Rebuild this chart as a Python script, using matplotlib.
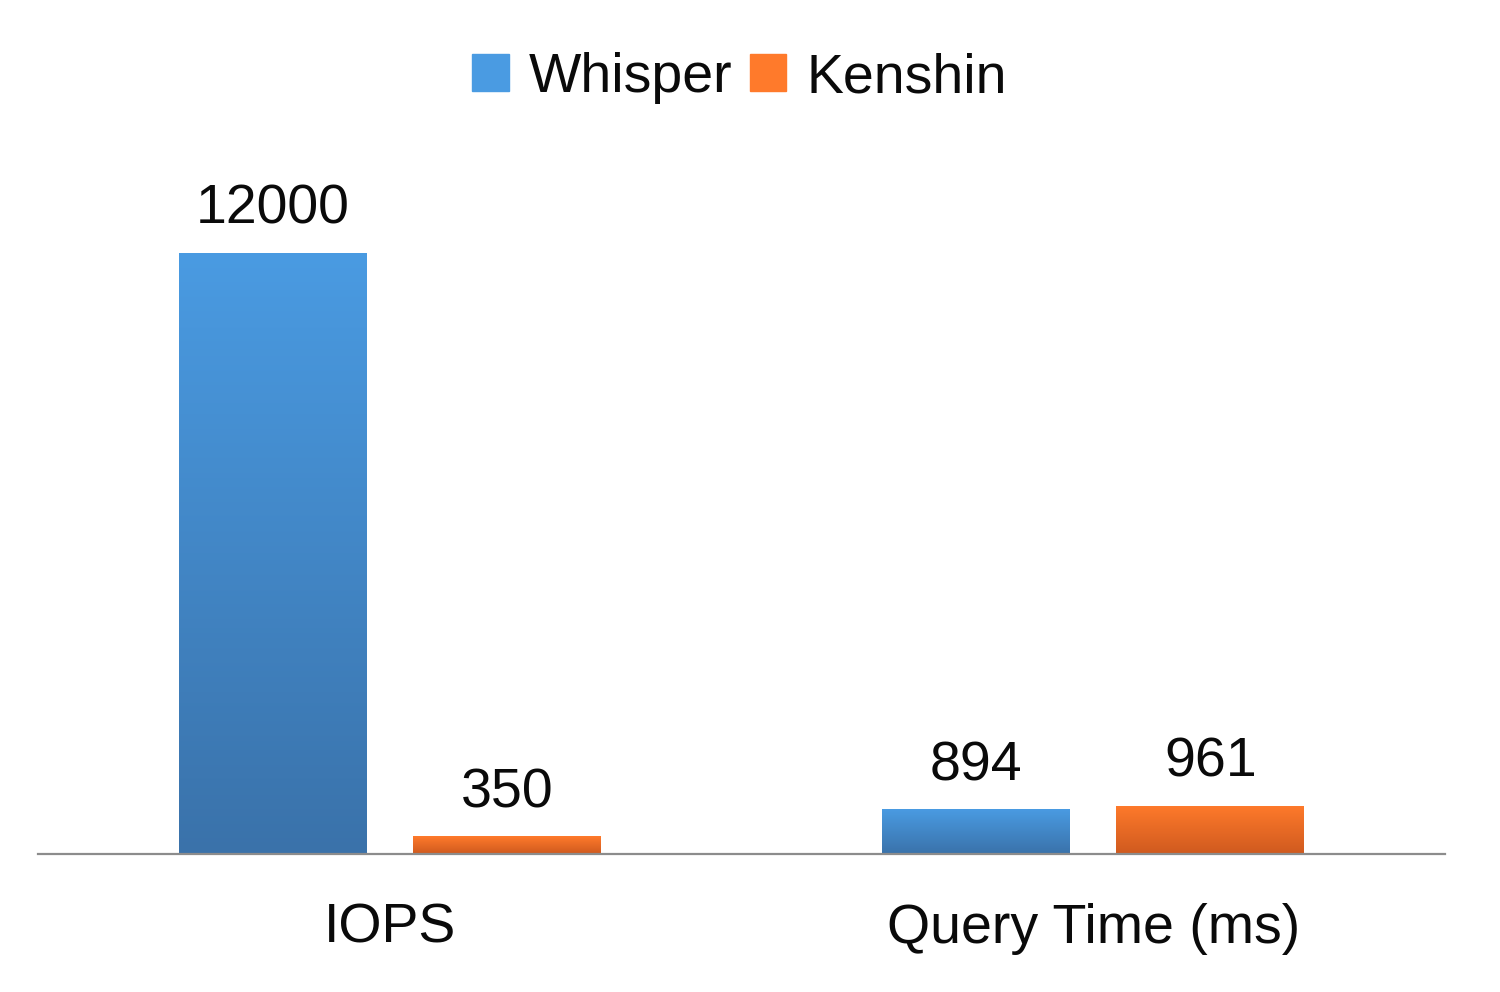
import numpy as np
import matplotlib
matplotlib.use('Agg')
from matplotlib import pyplot as plt
from matplotlib.colors import LinearSegmentedColormap

categories = ['IOPS', 'Query Time (ms)']
series_names = ['Whisper', 'Kenshin']
whisper = [12000, 894]
kenshin = [350, 961]
values = [whisper, kenshin]

# top / bottom colours of each series' gradient
grad_colors = [('#4a9be2', '#3a72aa'), ('#ff7a2b', '#cf5a1f')]

plt.rcParams['font.family'] = ['Liberation Sans', 'DejaVu Sans']

fig = plt.figure(figsize=(15, 9.92), dpi=100)
ax = fig.add_axes([0.0253, 0.1391, 0.938, 0.73])

x = np.arange(len(categories))
width = 0.267
offsets = [-0.1665, 0.1665]

grad = np.linspace(1, 0, 256).reshape(-1, 1)
for i, name in enumerate(series_names):
    top, bottom = grad_colors[i]
    cmap = LinearSegmentedColormap.from_list(name, [bottom, top])
    bars = ax.bar(x + offsets[i], values[i], width, color=top, label=name, zorder=2)
    for b, v in zip(bars, values[i]):
        x0, w, h = b.get_x(), b.get_width(), b.get_height()
        im = ax.imshow(grad, cmap=cmap, aspect='auto', extent=[x0, x0 + w, 0, h],
                       vmin=0, vmax=1, zorder=3)
        im.set_clip_path(b)
        ax.annotate(str(v), (x0 + w / 2, h), xytext=(0, 21), textcoords='offset points',
                    ha='center', va='baseline', fontsize=40, color='#0a0a0a')

ax.set_xlim(-0.5, 1.5)
ax.set_ylim(0, 14456)
ax.set_xticks(x)
ax.set_xticklabels(categories, fontsize=40, color='#0a0a0a')
ax.tick_params(axis='x', length=0, pad=35)
ax.set_yticks([])
for s in ['top', 'left', 'right']:
    ax.spines[s].set_visible(False)
ax.spines['bottom'].set_color('#8c8c8c')
ax.spines['bottom'].set_linewidth(1.6)
ax.spines['bottom'].set_zorder(4)

handles = [plt.Rectangle((0, 0), 1, 1, color=grad_colors[i][0]) for i in range(2)]
fig.legend(handles, series_names, loc='center', bbox_to_anchor=(0.493, 0.921), ncol=2,
           frameon=False, fontsize=40, handlelength=0.65, handleheight=0.65,
           handletextpad=0.36, columnspacing=0.32, labelcolor='#0a0a0a')

fig.savefig('out.png', dpi=100)
